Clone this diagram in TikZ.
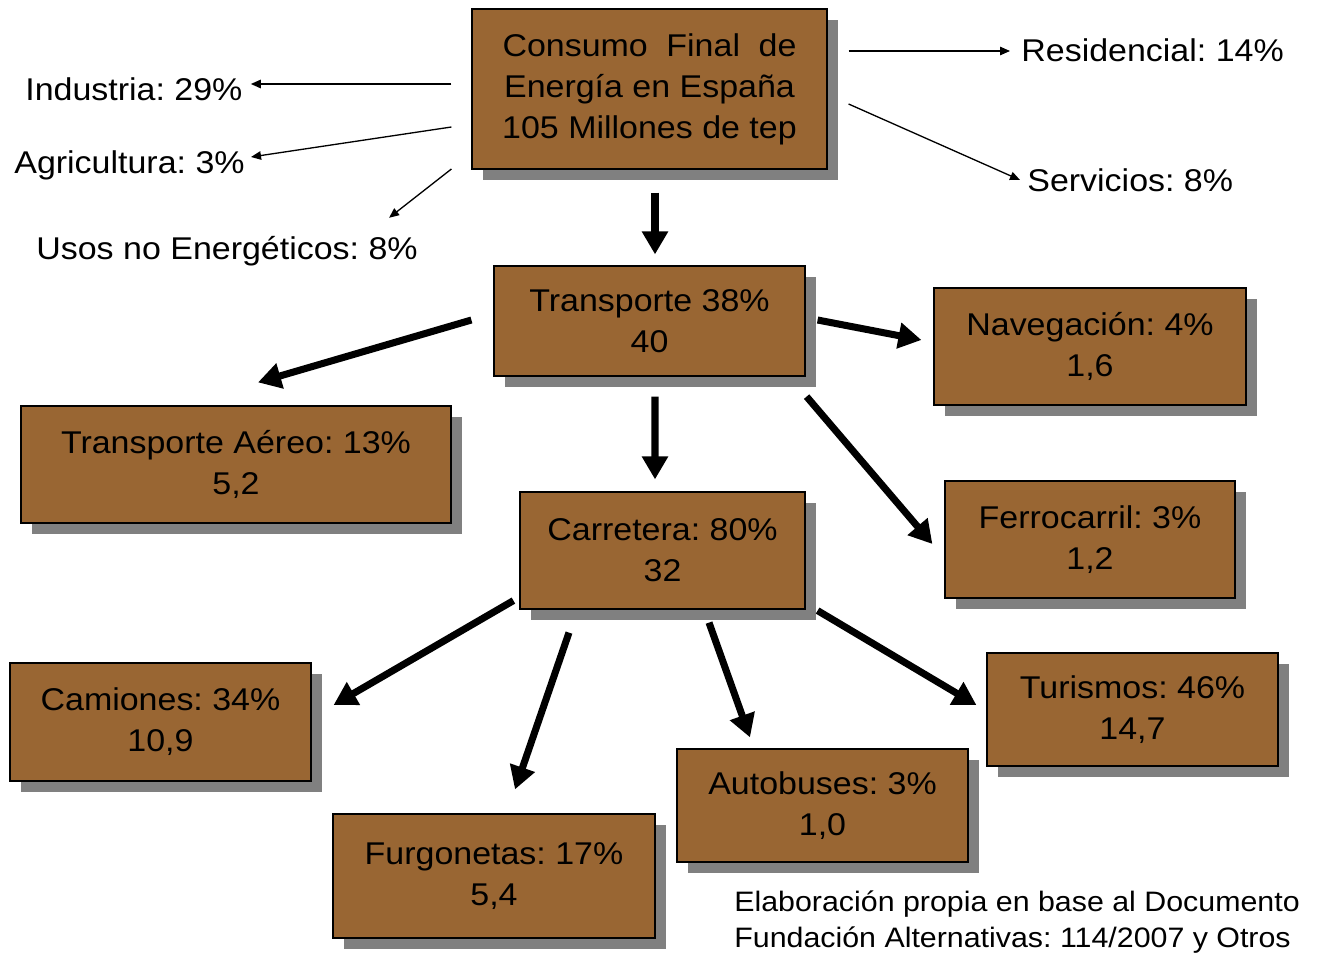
\documentclass[tikz,border=0pt]{standalone}
\usepackage{fontspec}
\setmainfont[FakeStretch=1.08]{Liberation Sans}
\usepackage{tikz}
\usetikzlibrary{arrows.meta,positioning,calc,shadows}
\definecolor{marron}{HTML}{996633}
\definecolor{sombra}{HTML}{808080}
\frenchspacing

\begin{document}
\begin{tikzpicture}[x=0.02cm, y=-0.02cm,
    bx/.style={draw, line width=0.7pt, fill=marron, align=center, inner sep=0pt,
      font=\fontsize{17.9}{23.3}\selectfont,
      drop shadow={shadow xshift=0.22cm, shadow yshift=-0.22cm, fill=sombra, opacity=1}},
    lbl/.style={anchor=west, inner sep=0pt, font=\fontsize{17.9}{23.3}\selectfont},
    thk/.style={-{Triangle[length=0.46cm, width=0.5cm]}, line width=4pt},
    thn/.style={-{Triangle[length=0.2cm, width=0.17cm]}, line width=0.75pt}
]
\useasboundingbox (0,0) rectangle (1317,956);

% cajas
\node[bx, minimum width=7.1cm, minimum height=3.2cm] (cons) at (649.5,89)
  {\makebox[5.88cm][s]{Consumo Final de}\\Energía en España\\105 Millones de tep};
\node[bx, minimum width=6.22cm, minimum height=2.2cm] (trans) at (649.5,321) {Transporte 38\%\\40};
\node[bx, minimum width=6.24cm, minimum height=2.34cm] (nav) at (1090,346.5) {Navegación: 4\%\\1,6};
\node[bx, minimum width=8.6cm, minimum height=2.34cm] (aereo) at (236,464.5) {Transporte Aéreo: 13\%\\5,2};
\node[bx, minimum width=5.7cm, minimum height=2.34cm] (carr) at (662.5,550.5) {Carretera: 80\%\\32};
\node[bx, minimum width=5.8cm, minimum height=2.34cm] (ferro) at (1090,539.5) {Ferrocarril: 3\%\\1,2};
\node[bx, minimum width=6.02cm, minimum height=2.36cm] (cam) at (160.5,722) {Camiones: 34\%\\10,9};
\node[bx, minimum width=5.82cm, minimum height=2.26cm] (turis) at (1132.5,709.5) {Turismos: 46\%\\14,7};
\node[bx, minimum width=5.82cm, minimum height=2.26cm] (auto) at (822.5,805.5) {Autobuses: 3\%\\1,0};
\node[bx, minimum width=6.44cm, minimum height=2.48cm] (furg) at (494,876) {Furgonetas: 17\%\\5,4};

% sectores
\node[lbl] (ind) at (25,89) {Industria: 29\%};
\node[lbl] (agr) at (14,165) {Agricultura: 3\%};
\node[lbl] (usos) at (36,251) {Usos no Energéticos: 8\%};
\node[lbl] (res) at (1021,50) {Residencial: 14\%};
\node[lbl] (serv) at (1027,180) {Servicios: 8\%};
\node[lbl, align=left, font=\fontsize{16}{20.5}\selectfont] (fuente) at (734,922)
  {Elaboración propia en base al Documento\\Fundación Alternativas: 114/2007 y Otros};

\draw[thn] ($(cons.west)+(-20,-5)$) -- ($(ind.east)+(8,-5)$);
\draw[thn] ($(cons.west)+(-20,38)$) -- ($(agr.east)+(6,-8)$);
\draw[thn] ($(cons.west)+(-20,80)$) -- ($(usos.north east)+(-29,-18)$);
\draw[thn] ($(cons.east)+(21,-38)$) -- ($(res.west)+(-11,1)$);
\draw[thn] ($(cons.east)+(21,15)$) -- ($(serv.west)+(-7,0)$);

\draw[thk] ($(cons.south)+(5.5,23)$) -- ($(trans.north)+(5.5,-11)$);
\draw[thk] ($(trans.west)+(-22,-1)$) -- ($(aereo.north)+(22,-23)$);
\draw[thk] ($(trans.east)+(12,-1)$) -- ($(nav.west)+(-12,-6.5)$);
\draw[thk] ($(trans.south)+(5.5,20)$) -- ($(carr.north)+(-7.5,-12)$);
\draw[thk] ($(trans.south east)+(1,20)$) -- ($(ferro.west)+(-12,4.5)$);

\draw[thk] ($(carr.south west)+(-6,-9)$) -- ($(cam.east)+(22,-17)$);
\draw[thk] ($(carr.south)+(-93.5,23)$) -- ($(furg.north)+(21,-24)$);
\draw[thk] ($(carr.south)+(46.5,13)$) -- ($(auto.north)+(-72.5,-11)$);
\draw[thk] ($(carr.south east)+(12,1)$) -- ($(turis.west)+(-10,-4.5)$);
\end{tikzpicture}
\end{document}
